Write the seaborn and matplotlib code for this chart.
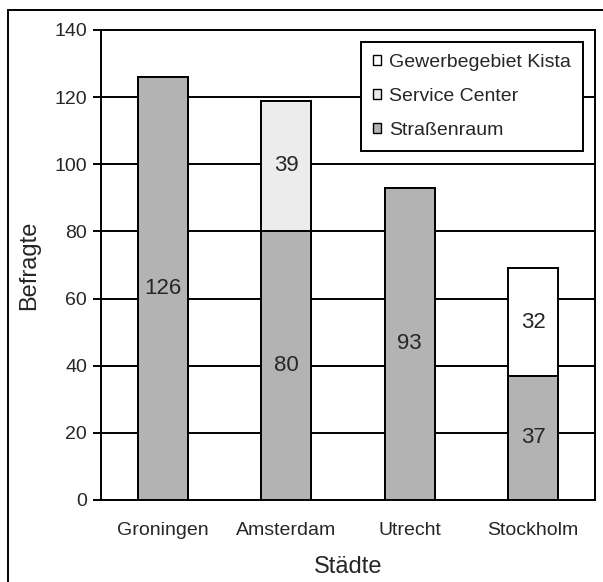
import matplotlib
matplotlib.use("Agg")
import matplotlib.pyplot as plt
from matplotlib.patches import Patch, Rectangle
import numpy as np
import pandas as pd
import seaborn as sns

# data
staedte = ["Groningen", "Amsterdam", "Utrecht", "Stockholm"]
strassenraum = [126, 80, 93, 37]
service_center = [0, 39, 0, 0]
gewerbegebiet_kista = [0, 0, 0, 32]
y_ticks = [0, 20, 40, 60, 80, 100, 120, 140]

col_street = "#b3b3b3"
col_service = "#ececec"
col_kista = "#ffffff"

sns.set_style("white")
plt.rcParams['font.family'] = ['Liberation Sans', 'DejaVu Sans']

df = pd.DataFrame({
    "stadt": staedte,
    "street": strassenraum,
    "service": service_center,
    "kista": gewerbegebiet_kista,
})
df["lvl2"] = df["street"] + df["service"]
df["lvl3"] = df["lvl2"] + df["kista"]

fig = plt.figure(figsize=(6.03, 5.82), dpi=100)
ax = fig.add_axes([101 / 603, 1 - 500 / 582, 494 / 603, 470 / 582])

bar_w = 0.405
# stacked by overlapping cumulative totals
for col, color in [("lvl3", col_kista), ("lvl2", col_service), ("street", col_street)]:
    sns.barplot(data=df, x="stadt", y=col, color=color, width=bar_w,
                edgecolor="black", linewidth=1.4, saturation=1, ax=ax, zorder=3)

# value labels in the segment middles
for i in range(len(staedte)):
    ax.text(i, strassenraum[i] / 2, str(strassenraum[i]), ha="center", va="center",
            fontsize=16, zorder=5)
    if service_center[i] > 0:
        ax.text(i, strassenraum[i] + service_center[i] / 2, str(service_center[i]),
                ha="center", va="center", fontsize=16, zorder=5)
    if gewerbegebiet_kista[i] > 0:
        base = strassenraum[i] + service_center[i]
        ax.text(i, base + gewerbegebiet_kista[i] / 2, str(gewerbegebiet_kista[i]),
                ha="center", va="center", fontsize=16, zorder=5)

ax.set_ylim(0, 140)
ax.set_xlim(-0.5, len(staedte) - 0.5)
ax.set_yticks(y_ticks)
ax.set_yticklabels([str(t) for t in y_ticks], fontsize=14)
ax.yaxis.grid(True, color="black", linewidth=1.4)
ax.set_axisbelow(True)

ax.set_xticks(range(len(staedte)))
ax.set_xticklabels(staedte, fontsize=14)
ax.tick_params(axis="x", which="major", length=0, pad=16)
ax.set_xticks(np.arange(-0.5, len(staedte)), minor=True)
ax.tick_params(axis="x", which="minor", length=6, width=1.4, direction="out", color="black")
ax.tick_params(axis="y", length=6, width=1.4, direction="out", color="black", pad=4, left=True)

for side in ["left", "bottom", "right", "top"]:
    ax.spines[side].set_visible(True)
    ax.spines[side].set_color("black")
    ax.spines[side].set_linewidth(1.4)

ax.set_xlabel("Städte", fontsize=17, labelpad=12)
ax.set_ylabel("Befragte", fontsize=17, labelpad=10)

handles = [
    Patch(facecolor=col_kista, edgecolor="black", label="Gewerbegebiet Kista"),
    Patch(facecolor=col_service, edgecolor="black", label="Service Center"),
    Patch(facecolor=col_street, edgecolor="black", label="Straßenraum"),
]
leg = ax.legend(handles=handles, loc="upper left", bbox_to_anchor=(0.526, 0.974),
                borderaxespad=0, fontsize=14, handlelength=0.45, handleheight=0.45,
                handletextpad=0.4, labelspacing=0.88, fancybox=False, framealpha=1,
                edgecolor="black", borderpad=0.6)
leg.get_frame().set_linewidth(1.4)
leg.set_zorder(6)

# outer chart border (runs off the right and bottom edges in the reference)
fig.patches.append(Rectangle((8 / 603, -0.2), 1.2, 1.2 - 10 / 582, transform=fig.transFigure,
                             fill=False, edgecolor="black", linewidth=1.4))

fig.savefig("out.png", dpi=100)
